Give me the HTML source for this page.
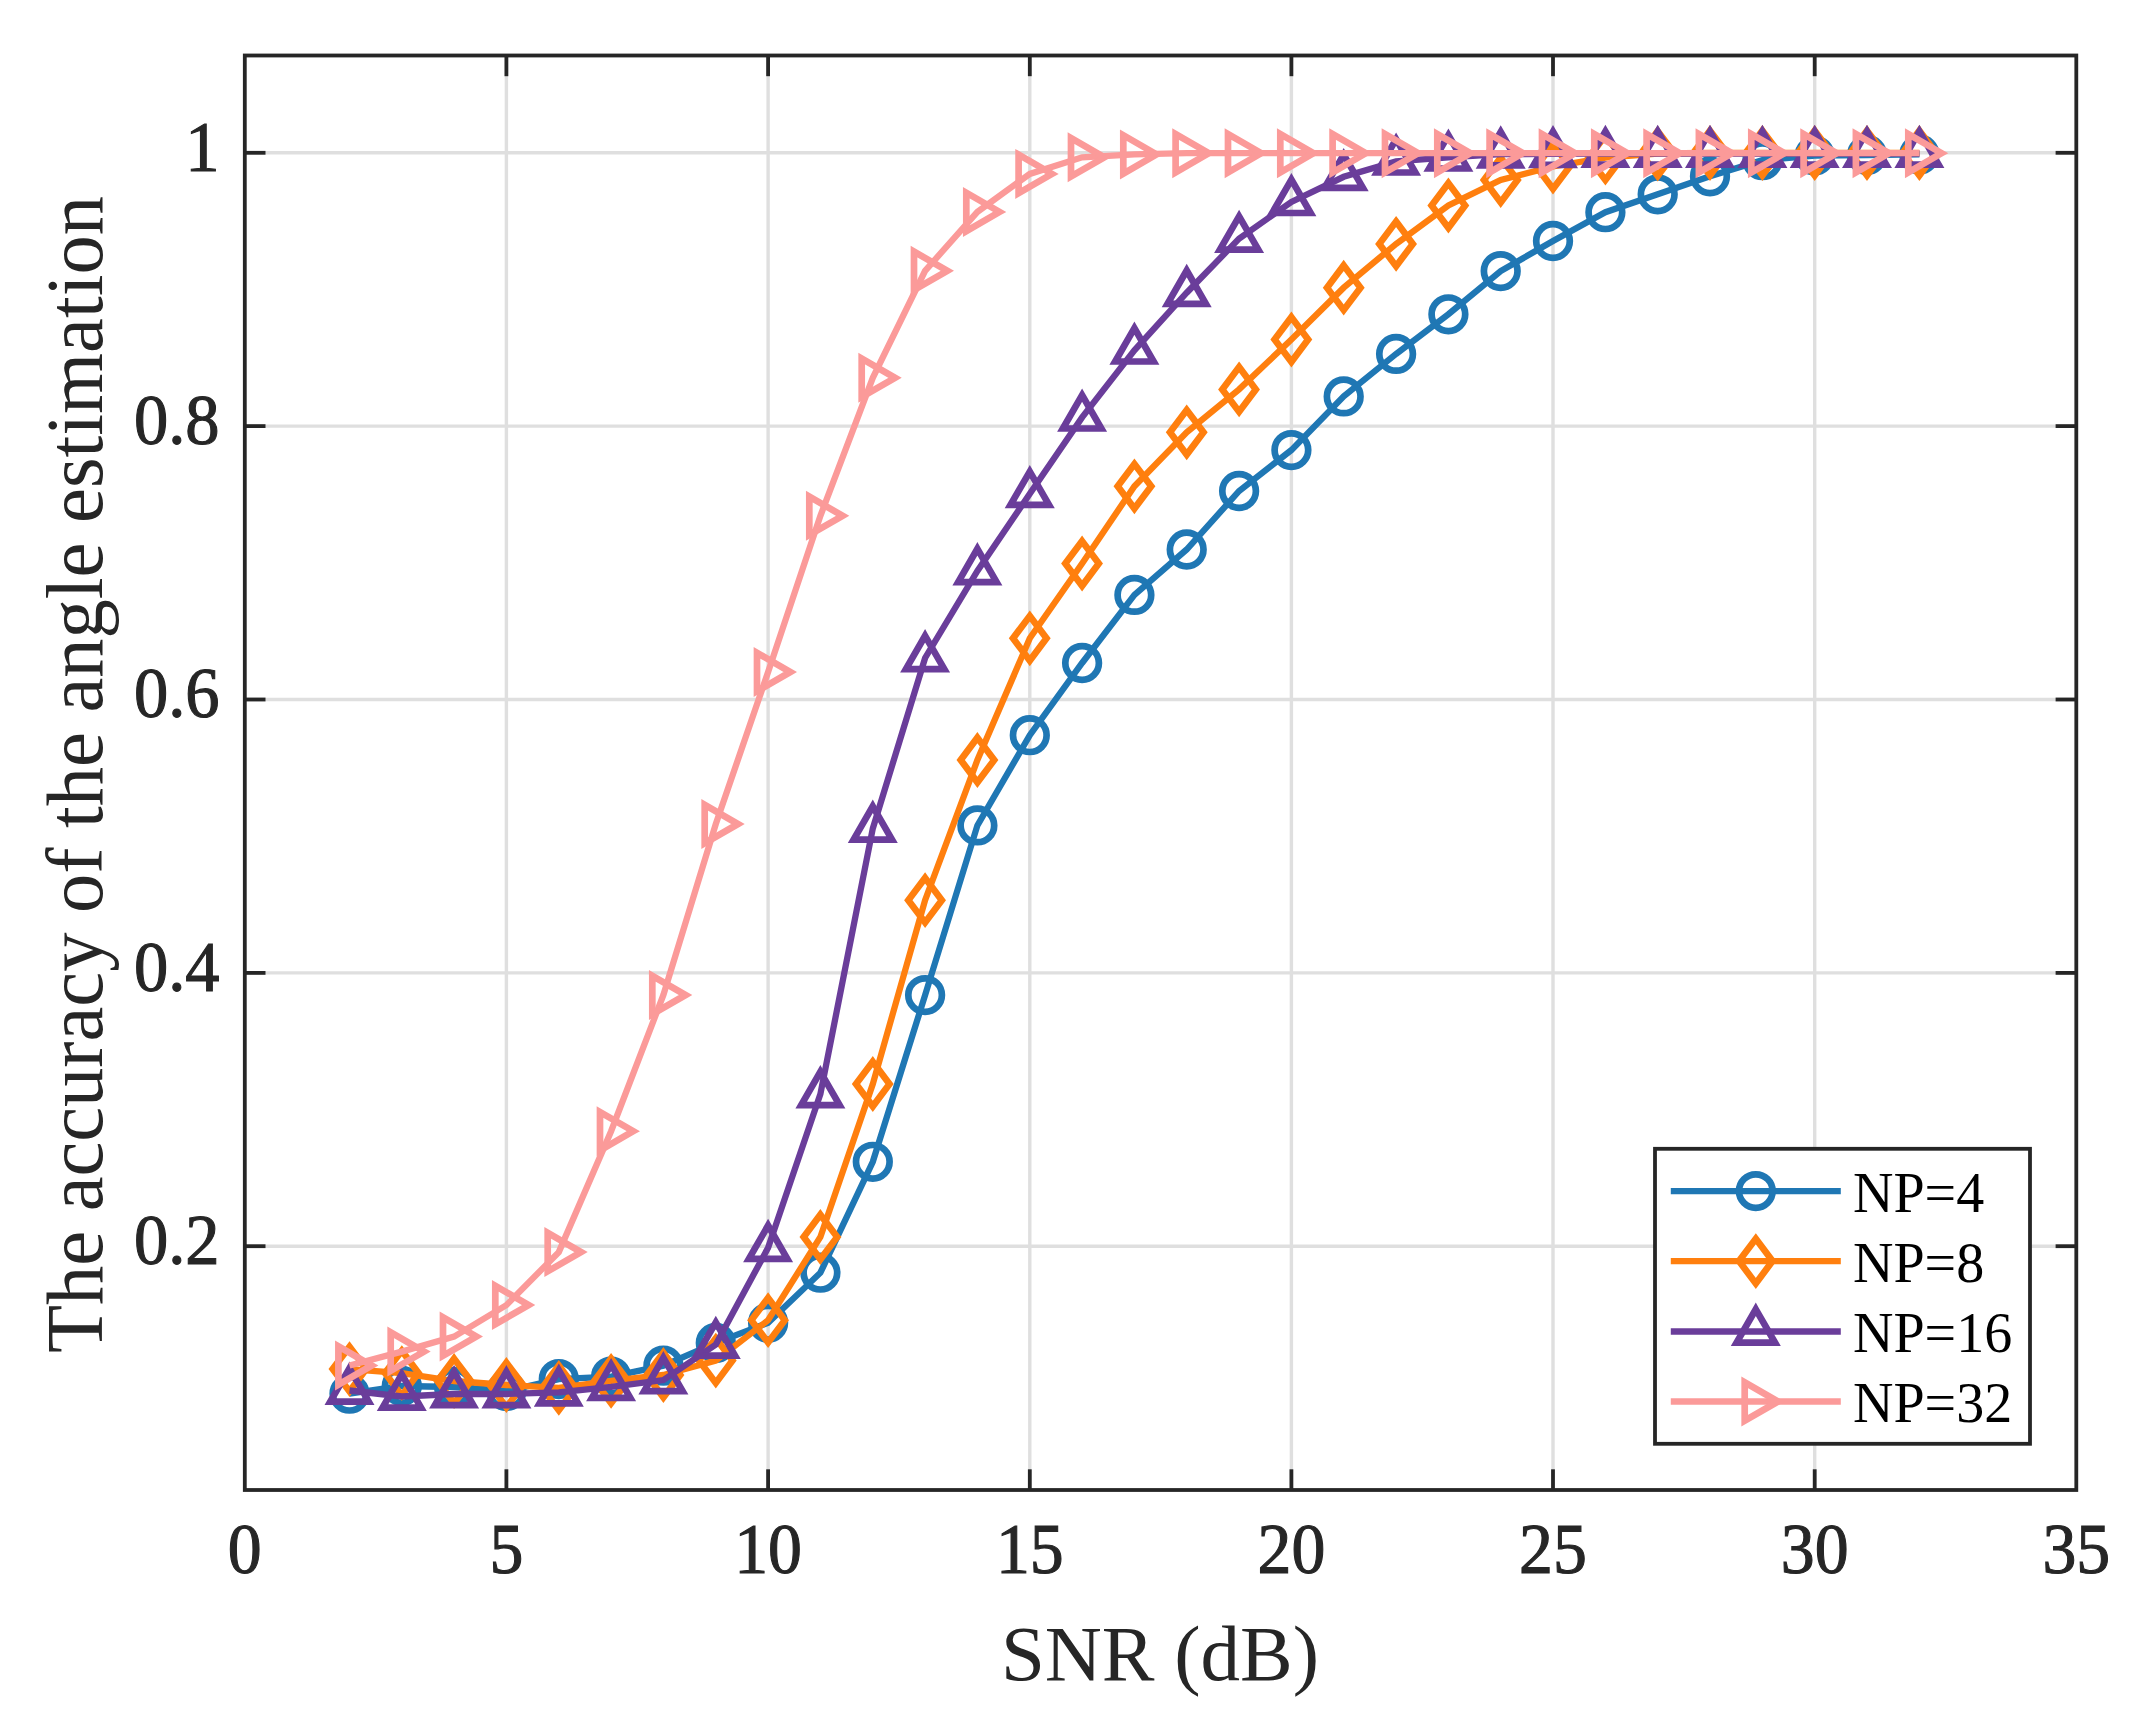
<!DOCTYPE html>
<html lang="en">
<head>
<meta charset="utf-8">
<title>The accuracy of the angle estimation vs SNR</title>
<style>
html,body{margin:0;padding:0;background:#fff;}
body{width:2141px;height:1721px;overflow:hidden;}
svg{display:block;}
text{font-family:"Liberation Serif","DejaVu Serif",serif;}
.tk{font-size:71px;fill:#262626;stroke:#262626;stroke-width:1.1px;}
.lb{font-size:79px;fill:#262626;}
.lg{font-size:56px;fill:#000;}
</style>
</head>
<body>
<svg width="2141" height="1721" viewBox="0 0 2141 1721">
<rect x="0" y="0" width="2141" height="1721" fill="#ffffff"/>
<g stroke="#dfdfdf" stroke-width="3.4" fill="none">
<line x1="506.4" y1="55.5" x2="506.4" y2="1490"/><line x1="768.1" y1="55.5" x2="768.1" y2="1490"/><line x1="1029.8" y1="55.5" x2="1029.8" y2="1490"/><line x1="1291.4" y1="55.5" x2="1291.4" y2="1490"/><line x1="1553" y1="55.5" x2="1553" y2="1490"/><line x1="1814.7" y1="55.5" x2="1814.7" y2="1490"/>
<line x1="244.8" y1="152.8" x2="2076.3" y2="152.8"/><line x1="244.8" y1="426.1" x2="2076.3" y2="426.1"/><line x1="244.8" y1="699.5" x2="2076.3" y2="699.5"/><line x1="244.8" y1="972.9" x2="2076.3" y2="972.9"/><line x1="244.8" y1="1246.2" x2="2076.3" y2="1246.2"/>
</g>
<g stroke="#262626" stroke-width="3.8" fill="none" stroke-linecap="butt">
<rect x="244.8" y="55.5" width="1831.5" height="1434.5"/>
<line x1="506.4" y1="1490" x2="506.4" y2="1469.3"/><line x1="506.4" y1="55.5" x2="506.4" y2="76.2"/><line x1="768.1" y1="1490" x2="768.1" y2="1469.3"/><line x1="768.1" y1="55.5" x2="768.1" y2="76.2"/><line x1="1029.8" y1="1490" x2="1029.8" y2="1469.3"/><line x1="1029.8" y1="55.5" x2="1029.8" y2="76.2"/><line x1="1291.4" y1="1490" x2="1291.4" y2="1469.3"/><line x1="1291.4" y1="55.5" x2="1291.4" y2="76.2"/><line x1="1553" y1="1490" x2="1553" y2="1469.3"/><line x1="1553" y1="55.5" x2="1553" y2="76.2"/><line x1="1814.7" y1="1490" x2="1814.7" y2="1469.3"/><line x1="1814.7" y1="55.5" x2="1814.7" y2="76.2"/>
<line x1="244.8" y1="152.8" x2="265.5" y2="152.8"/><line x1="2076.3" y1="152.8" x2="2055.6" y2="152.8"/><line x1="244.8" y1="426.1" x2="265.5" y2="426.1"/><line x1="2076.3" y1="426.1" x2="2055.6" y2="426.1"/><line x1="244.8" y1="699.5" x2="265.5" y2="699.5"/><line x1="2076.3" y1="699.5" x2="2055.6" y2="699.5"/><line x1="244.8" y1="972.9" x2="265.5" y2="972.9"/><line x1="2076.3" y1="972.9" x2="2055.6" y2="972.9"/><line x1="244.8" y1="1246.2" x2="265.5" y2="1246.2"/><line x1="2076.3" y1="1246.2" x2="2055.6" y2="1246.2"/>
</g>
<g stroke="#1f77b4" fill="none" stroke-linejoin="miter" stroke-miterlimit="10">
<polyline points="349.5,1393.7 401.8,1386 454.1,1387 506.4,1391 558.8,1379.1 611.1,1376.6 663.4,1365.7 715.8,1342.9 768.1,1322.7 820.4,1272.7 872.8,1161.8 925.1,995.1 977.4,825.4 1029.8,735.2 1082.1,663 1134.4,594.9 1186.7,549.5 1239.1,491 1291.4,450.1 1343.7,396.4 1396.1,353.9 1448.4,314.3 1500.7,271.1 1553,241 1605.4,212.2 1657.7,194.3 1710,176.3 1762.4,160.2 1814.7,155.6 1867,155 1919.4,154.4" stroke-width="6.3" stroke-linejoin="miter"/>
<g stroke-width="6.7"><circle cx="349.5" cy="1393.7" r="16.8"/><circle cx="401.8" cy="1386" r="16.8"/><circle cx="454.1" cy="1387" r="16.8"/><circle cx="506.4" cy="1391" r="16.8"/><circle cx="558.8" cy="1379.1" r="16.8"/><circle cx="611.1" cy="1376.6" r="16.8"/><circle cx="663.4" cy="1365.7" r="16.8"/><circle cx="715.8" cy="1342.9" r="16.8"/><circle cx="768.1" cy="1322.7" r="16.8"/><circle cx="820.4" cy="1272.7" r="16.8"/><circle cx="872.8" cy="1161.8" r="16.8"/><circle cx="925.1" cy="995.1" r="16.8"/><circle cx="977.4" cy="825.4" r="16.8"/><circle cx="1029.8" cy="735.2" r="16.8"/><circle cx="1082.1" cy="663" r="16.8"/><circle cx="1134.4" cy="594.9" r="16.8"/><circle cx="1186.7" cy="549.5" r="16.8"/><circle cx="1239.1" cy="491" r="16.8"/><circle cx="1291.4" cy="450.1" r="16.8"/><circle cx="1343.7" cy="396.4" r="16.8"/><circle cx="1396.1" cy="353.9" r="16.8"/><circle cx="1448.4" cy="314.3" r="16.8"/><circle cx="1500.7" cy="271.1" r="16.8"/><circle cx="1553" cy="241" r="16.8"/><circle cx="1605.4" cy="212.2" r="16.8"/><circle cx="1657.7" cy="194.3" r="16.8"/><circle cx="1710" cy="176.3" r="16.8"/><circle cx="1762.4" cy="160.2" r="16.8"/><circle cx="1814.7" cy="155.6" r="16.8"/><circle cx="1867" cy="155" r="16.8"/><circle cx="1919.4" cy="154.4" r="16.8"/></g>
</g>
<g stroke="#ff7f0e" fill="none" stroke-linejoin="miter" stroke-miterlimit="10">
<polyline points="349.5,1369.1 401.8,1373.1 454.1,1381 506.4,1385 558.8,1387.9 611.1,1380.8 663.4,1375 715.8,1360.6 768.1,1320.2 820.4,1237 872.8,1084 925.1,900.2 977.4,760 1029.8,638.3 1082.1,563.5 1134.4,486.3 1186.7,432.3 1239.1,389.4 1291.4,339.5 1343.7,287.7 1396.1,243.9 1448.4,205.5 1500.7,180 1553,166.5 1605.4,157.7 1657.7,153.5 1710,153 1762.4,153 1814.7,153 1867,153 1919.4,153" stroke-width="6.3" stroke-linejoin="miter"/>
<g stroke-width="6.7"><path d="M349.5 1346.8L366.2 1369.1L349.5 1391.4L332.7 1369.1Z"/><path d="M401.8 1350.8L418.5 1373.1L401.8 1395.4L385 1373.1Z"/><path d="M454.1 1358.7L470.9 1381L454.1 1403.3L437.4 1381Z"/><path d="M506.4 1362.7L523.2 1385L506.4 1407.3L489.7 1385Z"/><path d="M558.8 1365.6L575.5 1387.9L558.8 1410.2L542 1387.9Z"/><path d="M611.1 1358.5L627.9 1380.8L611.1 1403.1L594.4 1380.8Z"/><path d="M663.4 1352.7L680.2 1375L663.4 1397.3L646.7 1375Z"/><path d="M715.8 1338.3L732.5 1360.6L715.8 1382.9L699 1360.6Z"/><path d="M768.1 1297.9L784.8 1320.2L768.1 1342.5L751.3 1320.2Z"/><path d="M820.4 1214.7L837.2 1237L820.4 1259.3L803.7 1237Z"/><path d="M872.8 1061.7L889.5 1084L872.8 1106.3L856 1084Z"/><path d="M925.1 877.9L941.8 900.2L925.1 922.5L908.3 900.2Z"/><path d="M977.4 737.7L994.2 760L977.4 782.3L960.7 760Z"/><path d="M1029.8 616L1046.5 638.3L1029.8 660.6L1013 638.3Z"/><path d="M1082.1 541.2L1098.8 563.5L1082.1 585.8L1065.3 563.5Z"/><path d="M1134.4 464L1151.2 486.3L1134.4 508.6L1117.7 486.3Z"/><path d="M1186.7 410L1203.5 432.3L1186.7 454.6L1170 432.3Z"/><path d="M1239.1 367.1L1255.8 389.4L1239.1 411.7L1222.3 389.4Z"/><path d="M1291.4 317.2L1308.1 339.5L1291.4 361.8L1274.6 339.5Z"/><path d="M1343.7 265.4L1360.5 287.7L1343.7 310L1327 287.7Z"/><path d="M1396.1 221.6L1412.8 243.9L1396.1 266.2L1379.3 243.9Z"/><path d="M1448.4 183.2L1465.1 205.5L1448.4 227.8L1431.6 205.5Z"/><path d="M1500.7 157.7L1517.5 180L1500.7 202.3L1484 180Z"/><path d="M1553 144.2L1569.8 166.5L1553 188.8L1536.3 166.5Z"/><path d="M1605.4 135.4L1622.1 157.7L1605.4 180L1588.6 157.7Z"/><path d="M1657.7 131.2L1674.5 153.5L1657.7 175.8L1641 153.5Z"/><path d="M1710 130.7L1726.8 153L1710 175.3L1693.3 153Z"/><path d="M1762.4 130.7L1779.1 153L1762.4 175.3L1745.6 153Z"/><path d="M1814.7 130.7L1831.4 153L1814.7 175.3L1797.9 153Z"/><path d="M1867 130.7L1883.8 153L1867 175.3L1850.3 153Z"/><path d="M1919.4 130.7L1936.1 153L1919.4 175.3L1902.6 153Z"/></g>
</g>
<g stroke="#6a3d9a" fill="none" stroke-linejoin="miter" stroke-miterlimit="10">
<polyline points="349.5,1390.5 401.8,1396.5 454.1,1394 506.4,1394 558.8,1392.3 611.1,1386.8 663.4,1380 715.8,1344.6 768.1,1247.7 820.4,1094 872.8,828.5 925.1,658 977.4,571 1029.8,493.8 1082.1,417.4 1134.4,350.4 1186.7,292.7 1239.1,238.6 1291.4,201.9 1343.7,176.8 1396.1,161.4 1448.4,157.4 1500.7,154.2 1553,153.8 1605.4,153.6 1657.7,153.6 1710,153.6 1762.4,153.6 1814.7,153.6 1867,153.6 1919.4,153.6" stroke-width="6.3" stroke-linejoin="miter"/>
<g stroke-width="6.7"><path d="M349.5 1368.3L368.7 1401.6L330.3 1401.6Z"/><path d="M401.8 1374.3L421 1407.6L382.6 1407.6Z"/><path d="M454.1 1371.8L473.3 1405.1L434.9 1405.1Z"/><path d="M506.4 1371.8L525.6 1405.1L487.2 1405.1Z"/><path d="M558.8 1370.1L578 1403.4L539.6 1403.4Z"/><path d="M611.1 1364.6L630.3 1397.9L591.9 1397.9Z"/><path d="M663.4 1357.8L682.6 1391.1L644.2 1391.1Z"/><path d="M715.8 1322.4L735 1355.7L696.6 1355.7Z"/><path d="M768.1 1225.5L787.3 1258.8L748.9 1258.8Z"/><path d="M820.4 1071.8L839.6 1105.1L801.2 1105.1Z"/><path d="M872.8 806.3L892 839.6L853.6 839.6Z"/><path d="M925.1 635.8L944.3 669.1L905.9 669.1Z"/><path d="M977.4 548.8L996.6 582.1L958.2 582.1Z"/><path d="M1029.8 471.6L1049 504.9L1010.5 504.9Z"/><path d="M1082.1 395.2L1101.3 428.5L1062.9 428.5Z"/><path d="M1134.4 328.2L1153.6 361.5L1115.2 361.5Z"/><path d="M1186.7 270.5L1205.9 303.8L1167.5 303.8Z"/><path d="M1239.1 216.4L1258.3 249.7L1219.9 249.7Z"/><path d="M1291.4 179.7L1310.6 213L1272.2 213Z"/><path d="M1343.7 154.6L1362.9 187.9L1324.5 187.9Z"/><path d="M1396.1 139.2L1415.3 172.5L1376.9 172.5Z"/><path d="M1448.4 135.2L1467.6 168.5L1429.2 168.5Z"/><path d="M1500.7 132L1519.9 165.3L1481.5 165.3Z"/><path d="M1553 131.6L1572.2 164.9L1533.8 164.9Z"/><path d="M1605.4 131.4L1624.6 164.7L1586.2 164.7Z"/><path d="M1657.7 131.4L1676.9 164.7L1638.5 164.7Z"/><path d="M1710 131.4L1729.2 164.7L1690.8 164.7Z"/><path d="M1762.4 131.4L1781.6 164.7L1743.2 164.7Z"/><path d="M1814.7 131.4L1833.9 164.7L1795.5 164.7Z"/><path d="M1867 131.4L1886.2 164.7L1847.8 164.7Z"/><path d="M1919.4 131.4L1938.6 164.7L1900.2 164.7Z"/></g>
</g>
<g stroke="#fb9a99" fill="none" stroke-linejoin="miter" stroke-miterlimit="10">
<polyline points="349.5,1365.5 401.8,1351.6 454.1,1336.6 506.4,1305.1 558.8,1252.1 611.1,1131.2 663.4,995 715.8,824 768.1,672 820.4,515.8 872.8,377.8 925.1,270.8 977.4,211.9 1029.8,173.9 1082.1,157.3 1134.4,154.4 1186.7,153.2 1239.1,153.2 1291.4,153.2 1343.7,153.2 1396.1,153.2 1448.4,153.2 1500.7,153.2 1553,153.2 1605.4,153.2 1657.7,153.2 1710,153.2 1762.4,153.2 1814.7,153.2 1867,153.2 1919.4,153.2" stroke-width="6.3" stroke-linejoin="miter"/>
<g stroke-width="6.7"><path d="M371.7 1365.5L338.4 1384.7L338.4 1346.3Z"/><path d="M424 1351.6L390.7 1370.8L390.7 1332.4Z"/><path d="M476.3 1336.6L443 1355.8L443 1317.4Z"/><path d="M528.6 1305.1L495.3 1324.3L495.3 1285.9Z"/><path d="M581 1252.1L547.7 1271.3L547.7 1232.9Z"/><path d="M633.3 1131.2L600 1150.4L600 1112Z"/><path d="M685.6 995L652.3 1014.2L652.3 975.8Z"/><path d="M738 824L704.7 843.2L704.7 804.8Z"/><path d="M790.3 672L757 691.2L757 652.8Z"/><path d="M842.6 515.8L809.3 535L809.3 496.6Z"/><path d="M895 377.8L861.7 397L861.7 358.6Z"/><path d="M947.3 270.8L914 290L914 251.6Z"/><path d="M999.6 211.9L966.3 231.1L966.3 192.7Z"/><path d="M1052 173.9L1018.6 193.1L1018.6 154.7Z"/><path d="M1104.3 157.3L1071 176.5L1071 138.1Z"/><path d="M1156.6 154.4L1123.3 173.6L1123.3 135.2Z"/><path d="M1208.9 153.2L1175.6 172.4L1175.6 134Z"/><path d="M1261.3 153.2L1228 172.4L1228 134Z"/><path d="M1313.6 153.2L1280.3 172.4L1280.3 134Z"/><path d="M1365.9 153.2L1332.6 172.4L1332.6 134Z"/><path d="M1418.3 153.2L1385 172.4L1385 134Z"/><path d="M1470.6 153.2L1437.3 172.4L1437.3 134Z"/><path d="M1522.9 153.2L1489.6 172.4L1489.6 134Z"/><path d="M1575.2 153.2L1542 172.4L1542 134Z"/><path d="M1627.6 153.2L1594.3 172.4L1594.3 134Z"/><path d="M1679.9 153.2L1646.6 172.4L1646.6 134Z"/><path d="M1732.2 153.2L1698.9 172.4L1698.9 134Z"/><path d="M1784.6 153.2L1751.3 172.4L1751.3 134Z"/><path d="M1836.9 153.2L1803.6 172.4L1803.6 134Z"/><path d="M1889.2 153.2L1855.9 172.4L1855.9 134Z"/><path d="M1941.6 153.2L1908.3 172.4L1908.3 134Z"/></g>
</g>
<g class="tk" text-anchor="middle">
<text transform="translate(244.8,1573.4) scale(0.955,1)">0</text><text transform="translate(506.4,1573.4) scale(0.955,1)">5</text><text transform="translate(768.1,1573.4) scale(0.955,1)">10</text><text transform="translate(1029.8,1573.4) scale(0.955,1)">15</text><text transform="translate(1291.4,1573.4) scale(0.955,1)">20</text><text transform="translate(1553,1573.4) scale(0.955,1)">25</text><text transform="translate(1814.7,1573.4) scale(0.955,1)">30</text><text transform="translate(2076.3,1573.4) scale(0.955,1)">35</text>
</g>
<g class="tk" text-anchor="end">
<text transform="translate(219.5,170.6) scale(0.965,1)">1</text><text transform="translate(219.5,443.9) scale(0.965,1)">0.8</text><text transform="translate(219.5,717.3) scale(0.965,1)">0.6</text><text transform="translate(219.5,990.6) scale(0.965,1)">0.4</text><text transform="translate(219.5,1264) scale(0.965,1)">0.2</text>
</g>
<text class="lb" x="1160" y="1679.8" text-anchor="middle">SNR (dB)</text>
<text class="lb" transform="translate(102,774.5) rotate(-90)" text-anchor="middle" textLength="1157" lengthAdjust="spacingAndGlyphs" style="font-size:80px">The accuracy of the angle estimation</text>
<rect x="1655" y="1148.8" width="375" height="295" fill="#fff" stroke="#262626" stroke-width="3.8"/>
<g stroke="#1f77b4" fill="none" stroke-miterlimit="10"><line x1="1670.8" y1="1191.1" x2="1840.8" y2="1191.1" stroke-width="6.3"/><g stroke-width="6.7"><circle cx="1755.8" cy="1191.1" r="16.8"/></g></g>
<text class="lg" x="1853" y="1211.7">NP=4</text>
<g stroke="#ff7f0e" fill="none" stroke-miterlimit="10"><line x1="1670.8" y1="1261.1" x2="1840.8" y2="1261.1" stroke-width="6.3"/><g stroke-width="6.7"><path d="M1755.8 1238.8L1772.5 1261.1L1755.8 1283.4L1739 1261.1Z"/></g></g>
<text class="lg" x="1853" y="1281.7">NP=8</text>
<g stroke="#6a3d9a" fill="none" stroke-miterlimit="10"><line x1="1670.8" y1="1331.5" x2="1840.8" y2="1331.5" stroke-width="6.3"/><g stroke-width="6.7"><path d="M1755.8 1309.3L1775 1342.6L1736.6 1342.6Z"/></g></g>
<text class="lg" x="1853" y="1352.1">NP=16</text>
<g stroke="#fb9a99" fill="none" stroke-miterlimit="10"><line x1="1670.8" y1="1401.5" x2="1840.8" y2="1401.5" stroke-width="6.3"/><g stroke-width="6.7"><path d="M1778 1401.5L1744.7 1420.7L1744.7 1382.3Z"/></g></g>
<text class="lg" x="1853" y="1422.1">NP=32</text>
</svg>
</body>
</html>
